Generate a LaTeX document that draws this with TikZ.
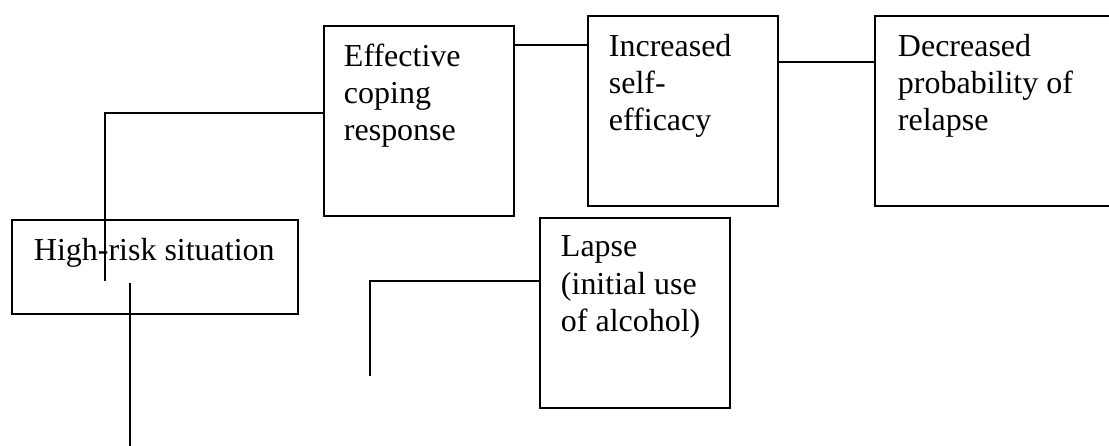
\documentclass[tikz,border=0pt]{standalone}
\usepackage{fontspec}
\setmainfont{Liberation Serif}
\begin{document}
\begin{tikzpicture}[x=0.02cm,y=-0.02cm,line width=1.1pt,
    box/.style={draw,anchor=north west,inner sep=0pt,minimum width=3.8cm,minimum height=3.8cm},
    txt/.style={anchor=north west,inner sep=0pt,align=left,font=\fontsize{18.2}{21.2}\selectfont}]
    \useasboundingbox (0,0) rectangle (1109,446);
    % boxes
    \node[box,minimum width=5.72cm,minimum height=1.88cm] (hrisk) at (11,219) {};
    \node[box] (cope) at (323,25) {};
    \node[box] (eff) at (587,15) {};
    \node[box,minimum width=4.9cm] (dec) at (874,15) {};
    \node[box] (lapse) at (539,217) {};
    % texts
    \node[txt] (hrisktxt) at ([shift={(22,18)}]hrisk.north west) {High-risk situation};
    \node[txt] (copetxt) at ([shift={(20,18)}]cope.north west) {Effective\\coping\\response};
    \node[txt] (efftxt) at ([shift={(21,18)}]eff.north west) {Increased\\self-\\efficacy};
    \node[txt] (dectxt) at ([shift={(23,18)}]dec.north west) {Decreased\\probability of\\relapse};
    \node[txt] (lapsetxt) at ([shift={(21,18)}]lapse.north west) {Lapse\\(initial use\\of alcohol)};
    % connectors
    \coordinate (hrtop) at (105,281);
    \draw (hrtop) |- (cope.west |- 0,113);
    \draw (cope.east |- 0,45) -- (eff.west |- 0,45);
    \draw (eff.east |- 0,62) -- (dec.west |- 0,62);
    \coordinate (hrlow) at (130,283);
    \coordinate (hrout) at (130,446);
    \draw (hrlow) -- (hrout);
    \coordinate (lapsend) at (370,376);
    \draw (lapse.west |- 0,281) -| (lapsend);
\end{tikzpicture}
\end{document}
